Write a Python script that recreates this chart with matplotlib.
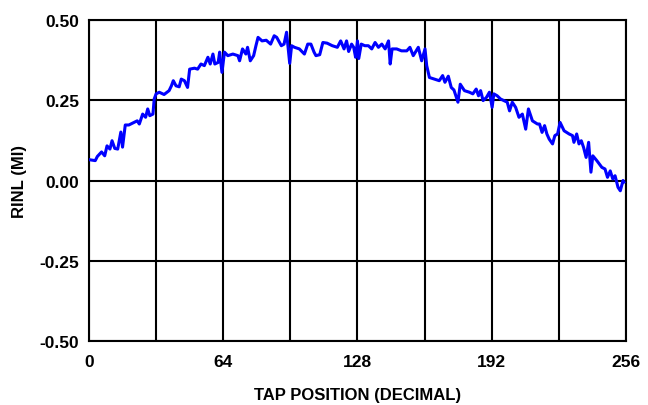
import numpy as np
import matplotlib
matplotlib.use("Agg")
from matplotlib import pyplot as plt
from matplotlib.ticker import MultipleLocator

plt.rcParams["font.family"] = ["Liberation Sans", "DejaVu Sans"]
plt.rcParams["font.weight"] = "bold"

# tap position vs. RINL
tap = [
    0, 3, 4, 6, 7.5, 8.6, 10, 11, 12.3, 13.7, 15.2, 16, 17.3, 19, 21.4, 23,
    24, 25.6, 27, 28, 29, 30.5, 31.1, 32, 33.5, 35.8, 38.2, 39.3, 40.2, 41.5,
    43, 44, 45.5, 47, 48, 50.3, 51.8, 53.4, 55, 56.7, 57.8, 59.1, 60, 61.6,
    62.3, 63.4, 64.6, 66.2, 68.6, 71, 71.8, 73.2, 74.8, 75.6, 76.9, 78.5,
    79.6, 80.6, 82.5, 84.5, 86.6, 88.3, 89.5, 91.7, 93, 94.2, 95.7, 96.6, 98,
    100.3, 102.7, 104.3, 105.8, 107.3, 108.2, 110, 111.5, 113.5, 116, 118.4,
    120, 121.6, 122.8, 123.8, 125.2, 126.2, 127.1, 128, 128.6, 129.8, 131.5,
    133.2, 134.8, 136.4, 138, 139.6, 141.2, 142.8, 143.6, 144.5, 146.7, 149,
    151.5, 153, 154.6, 157, 158.6, 160.2, 161, 162.3, 164.7, 167, 168.6,
    169.7, 171.3, 172.7, 174, 175.9, 177, 179, 181.4, 183, 184.6, 185.7,
    186.7, 187.9, 189.5, 190.9, 192.2, 193, 194.6, 196.2, 197.8, 199.4,
    200.5, 201.8, 203.4, 205, 206.6, 208.2, 209.5, 211.4, 213.8, 214.8, 216,
    217.2, 218.3, 219.4, 221, 222.1, 223.4, 224.6, 226.5, 228.9, 230.5,
    231.2, 232.5, 233.6, 234.7, 235.8, 237, 238.2, 239.3, 240.2, 242.1,
    244.5, 246, 247.2, 248.5, 249.7, 250.8, 252.2, 253.3, 254.6, 255,
]
rinl = [
    0.065, 0.062, 0.075, 0.089, 0.077, 0.108, 0.098, 0.124, 0.100, 0.098,
    0.151, 0.104, 0.173, 0.173, 0.181, 0.186, 0.176, 0.207, 0.197, 0.223,
    0.202, 0.207, 0.254, 0.270, 0.275, 0.268, 0.280, 0.295, 0.311, 0.295,
    0.292, 0.316, 0.311, 0.290, 0.347, 0.350, 0.347, 0.363, 0.358, 0.384,
    0.363, 0.394, 0.363, 0.368, 0.400, 0.337, 0.400, 0.389, 0.394, 0.389,
    0.373, 0.410, 0.394, 0.415, 0.373, 0.389, 0.420, 0.446, 0.435, 0.437,
    0.425, 0.451, 0.446, 0.420, 0.425, 0.462, 0.365, 0.420, 0.415, 0.410,
    0.394, 0.425, 0.425, 0.400, 0.389, 0.392, 0.430, 0.428, 0.420, 0.415,
    0.435, 0.410, 0.435, 0.402, 0.425, 0.415, 0.384, 0.435, 0.380, 0.425,
    0.420, 0.420, 0.410, 0.430, 0.415, 0.425, 0.410, 0.435, 0.363, 0.410,
    0.410, 0.404, 0.404, 0.415, 0.389, 0.415, 0.373, 0.410, 0.358, 0.321,
    0.316, 0.311, 0.327, 0.306, 0.325, 0.290, 0.282, 0.244, 0.300, 0.280,
    0.275, 0.270, 0.285, 0.264, 0.280, 0.249, 0.259, 0.275, 0.228, 0.270,
    0.264, 0.254, 0.249, 0.244, 0.217, 0.244, 0.228, 0.197, 0.207, 0.160,
    0.223, 0.186, 0.176, 0.176, 0.150, 0.171, 0.145, 0.129, 0.114, 0.140,
    0.145, 0.181, 0.155, 0.145, 0.140, 0.119, 0.145, 0.114, 0.124, 0.103,
    0.072, 0.119, 0.026, 0.077, 0.062, 0.041, 0.036, 0.010, 0.030, 0.005,
    0.015, -0.021, -0.032, 0.000, -0.005,
]

x_ticks = [0, 64, 128, 192, 256]
y_ticks = [-0.50, -0.25, 0.00, 0.25, 0.50]


def main() -> None:
    fig = plt.figure(figsize=(6.48, 4.06), dpi=100)
    ax = fig.add_axes([0.1373, 0.1576, 0.8287, 0.7906])

    ax.plot(tap, rinl, color="#0000ff", linewidth=2.2, zorder=3,
            solid_joinstyle="round")

    ax.set_xlim(0, 256)
    ax.set_ylim(-0.5, 0.5)

    ax.set_xticks(x_ticks)
    ax.set_xticklabels([str(t) for t in x_ticks])
    ax.xaxis.set_minor_locator(MultipleLocator(32))
    ax.set_yticks(y_ticks)
    ax.set_yticklabels([f"{t:.2f}" for t in y_ticks])

    style = {"color": "black", "linewidth": 1.5}
    ax.grid(True, which="both", axis="x", **style)
    ax.grid(True, which="major", axis="y", **style)

    for spine in ax.spines.values():
        spine.set_linewidth(1.5)
        spine.set_color("black")

    ax.tick_params(which="both", length=0, labelsize=12.5)
    ax.tick_params(axis="x", pad=9)
    ax.tick_params(axis="y", pad=7)

    ax.set_xlabel("TAP POSITION (DECIMAL)", fontsize=12, fontweight="bold",
                  labelpad=13)
    ax.set_ylabel("RINL (MI)", fontsize=12, fontweight="bold", labelpad=9)

    fig.savefig("out.png", dpi=100)


if __name__ == "__main__":
    main()
